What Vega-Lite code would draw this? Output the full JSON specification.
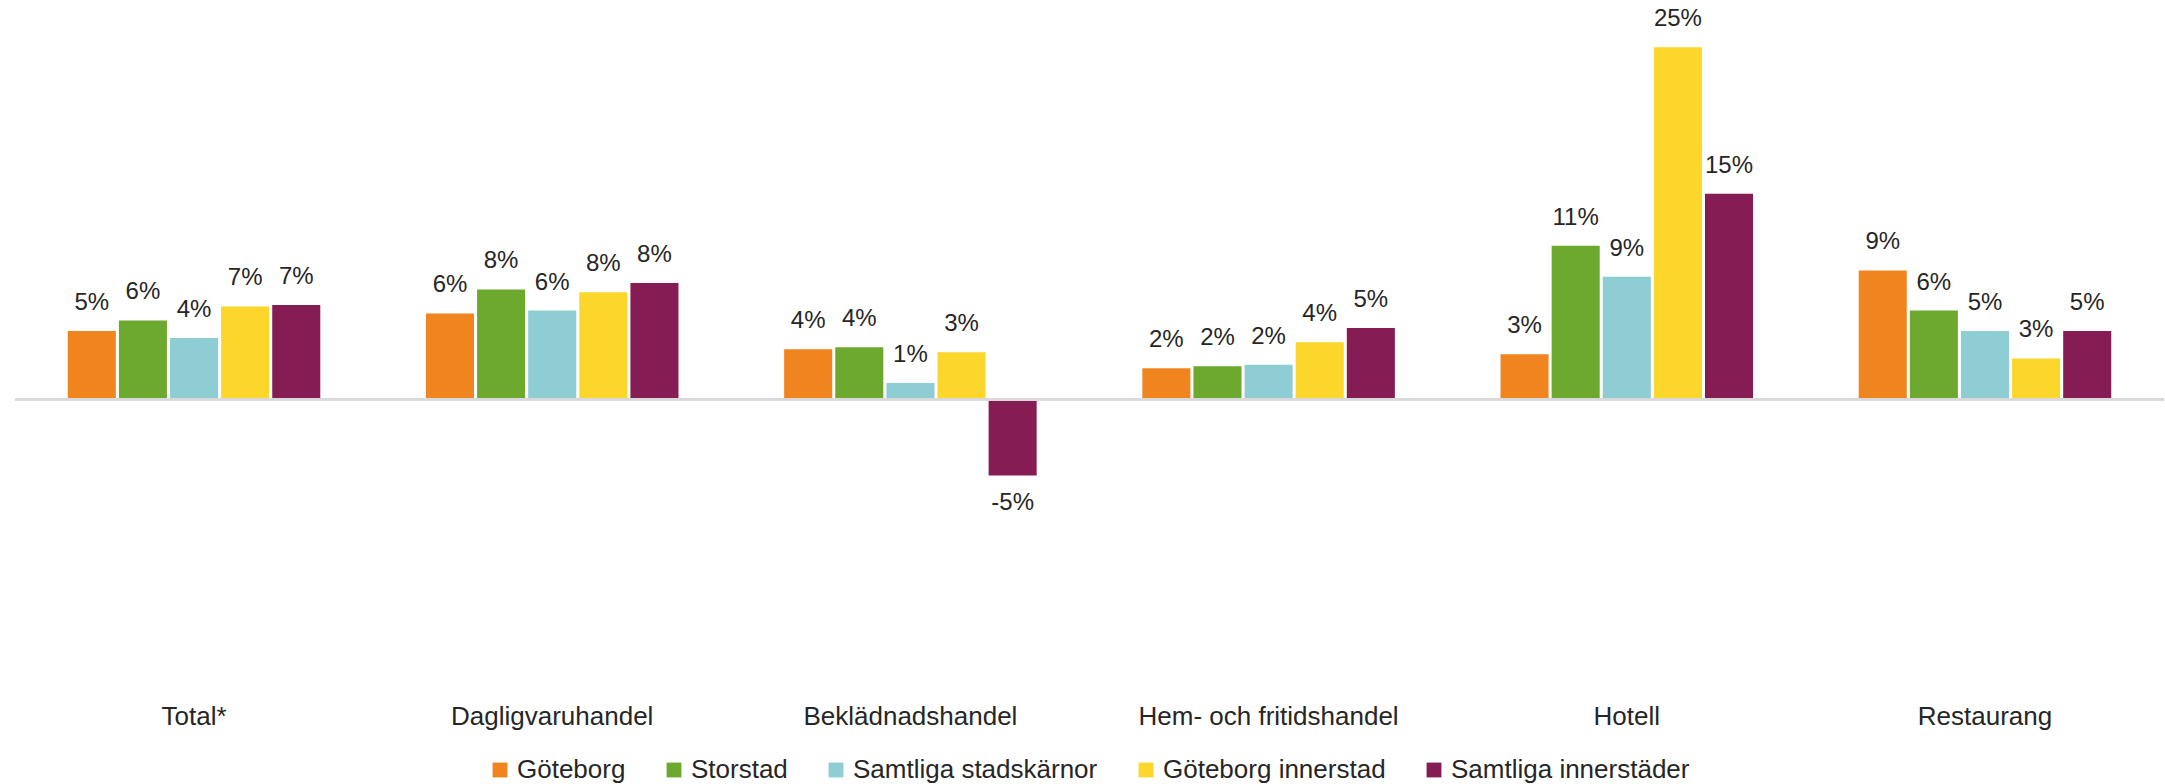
{
  "$schema": "https://vega.github.io/schema/vega-lite/v6.json",
  "autosize": {"type": "none"},
  "width": 2149,
  "height": 676,
  "padding": {"left": 15, "top": 5, "right": 1, "bottom": 103},
  "background": "white",
  "config": {
    "view": {"stroke": null},
    "font": "Liberation Sans",
    "locale": {"number": {"decimal": ".", "thousands": ",", "grouping": [3], "currency": ["$", ""], "minus": "-"}}
  },
  "data": {"values": [
    {"kategori": "Total*", "serie": "Göteborg", "v": 0.0485},
    {"kategori": "Total*", "serie": "Storstad", "v": 0.056},
    {"kategori": "Total*", "serie": "Samtliga stadskärnor", "v": 0.0436},
    {"kategori": "Total*", "serie": "Göteborg innerstad", "v": 0.066},
    {"kategori": "Total*", "serie": "Samtliga innerstäder", "v": 0.067},
    {"kategori": "Dagligvaruhandel", "serie": "Göteborg", "v": 0.061},
    {"kategori": "Dagligvaruhandel", "serie": "Storstad", "v": 0.078},
    {"kategori": "Dagligvaruhandel", "serie": "Samtliga stadskärnor", "v": 0.063},
    {"kategori": "Dagligvaruhandel", "serie": "Göteborg innerstad", "v": 0.076},
    {"kategori": "Dagligvaruhandel", "serie": "Samtliga innerstäder", "v": 0.0826},
    {"kategori": "Beklädnadshandel", "serie": "Göteborg", "v": 0.0355},
    {"kategori": "Beklädnadshandel", "serie": "Storstad", "v": 0.037},
    {"kategori": "Beklädnadshandel", "serie": "Samtliga stadskärnor", "v": 0.0116},
    {"kategori": "Beklädnadshandel", "serie": "Göteborg innerstad", "v": 0.0335},
    {"kategori": "Beklädnadshandel", "serie": "Samtliga innerstäder", "v": -0.054},
    {"kategori": "Hem- och fritidshandel", "serie": "Göteborg", "v": 0.022},
    {"kategori": "Hem- och fritidshandel", "serie": "Storstad", "v": 0.0235},
    {"kategori": "Hem- och fritidshandel", "serie": "Samtliga stadskärnor", "v": 0.0245},
    {"kategori": "Hem- och fritidshandel", "serie": "Göteborg innerstad", "v": 0.0406},
    {"kategori": "Hem- och fritidshandel", "serie": "Samtliga innerstäder", "v": 0.0507},
    {"kategori": "Hotell", "serie": "Göteborg", "v": 0.032},
    {"kategori": "Hotell", "serie": "Storstad", "v": 0.109},
    {"kategori": "Hotell", "serie": "Samtliga stadskärnor", "v": 0.087},
    {"kategori": "Hotell", "serie": "Göteborg innerstad", "v": 0.25},
    {"kategori": "Hotell", "serie": "Samtliga innerstäder", "v": 0.146},
    {"kategori": "Restaurang", "serie": "Göteborg", "v": 0.0915},
    {"kategori": "Restaurang", "serie": "Storstad", "v": 0.063},
    {"kategori": "Restaurang", "serie": "Samtliga stadskärnor", "v": 0.0485},
    {"kategori": "Restaurang", "serie": "Göteborg innerstad", "v": 0.029},
    {"kategori": "Restaurang", "serie": "Samtliga innerstäder", "v": 0.0485}
  ]},
  "encoding": {
    "x": {
      "field": "kategori", "type": "nominal", "sort": null,
      "scale": {"paddingInner": 0.295, "paddingOuter": 0.1473},
      "axis": {"title": null, "domain": false, "ticks": false, "tickSize": 0, "labelAngle": 0, "labelFontSize": 26, "labelColor": "#262626", "labelPadding": 22, "labelLimit": 0, "labelFont": "Liberation Sans"}
    },
    "xOffset": {
      "field": "serie", "type": "nominal",
      "sort": ["Göteborg", "Storstad", "Samtliga stadskärnor", "Göteborg innerstad", "Samtliga innerstäder"],
      "scale": {"paddingInner": 0.06, "paddingOuter": 0}
    },
    "y": {
      "field": "v", "type": "quantitative",
      "scale": {"domain": [-0.2, 0.28], "nice": false, "zero": false},
      "axis": null
    }
  },
  "layer": [
    {
      "mark": {"type": "bar"},
      "encoding": {
        "color": {
          "field": "serie", "type": "nominal",
          "sort": ["Göteborg", "Storstad", "Samtliga stadskärnor", "Göteborg innerstad", "Samtliga innerstäder"],
          "scale": {
            "domain": ["Göteborg", "Storstad", "Samtliga stadskärnor", "Göteborg innerstad", "Samtliga innerstäder"],
            "range": ["#F0841E", "#6DA82F", "#8ECDD4", "#FCD62B", "#851C53"]
          },
          "legend": {
            "title": null, "orient": "none", "direction": "horizontal",
            "legendX": 472, "legendY": 752,
            "symbolType": "square", "symbolSize": 220, "symbolStrokeWidth": 0,
            "labelFontSize": 26, "labelColor": "#262626", "labelFont": "Liberation Sans",
            "labelOffset": 4, "labelLimit": 0, "columnPadding": 35
          }
        }
      }
    },
    {
      "mark": {"type": "rule", "color": "#D9D9D9", "strokeWidth": 2},
      "encoding": {"x": null, "xOffset": null, "y": {"datum": 0, "type": "quantitative"}}
    },
    {
      "transform": [{"filter": "datum.v >= 0"}],
      "mark": {"type": "text", "baseline": "middle", "dy": -28, "fontSize": 24, "color": "#262626", "font": "Liberation Sans"},
      "encoding": {"text": {"field": "v", "type": "quantitative", "format": ".0%"}}
    },
    {
      "transform": [{"filter": "datum.v < 0"}],
      "mark": {"type": "text", "baseline": "middle", "dy": 28, "fontSize": 24, "color": "#262626", "font": "Liberation Sans"},
      "encoding": {"text": {"field": "v", "type": "quantitative", "format": ".0%"}}
    }
  ]
}
